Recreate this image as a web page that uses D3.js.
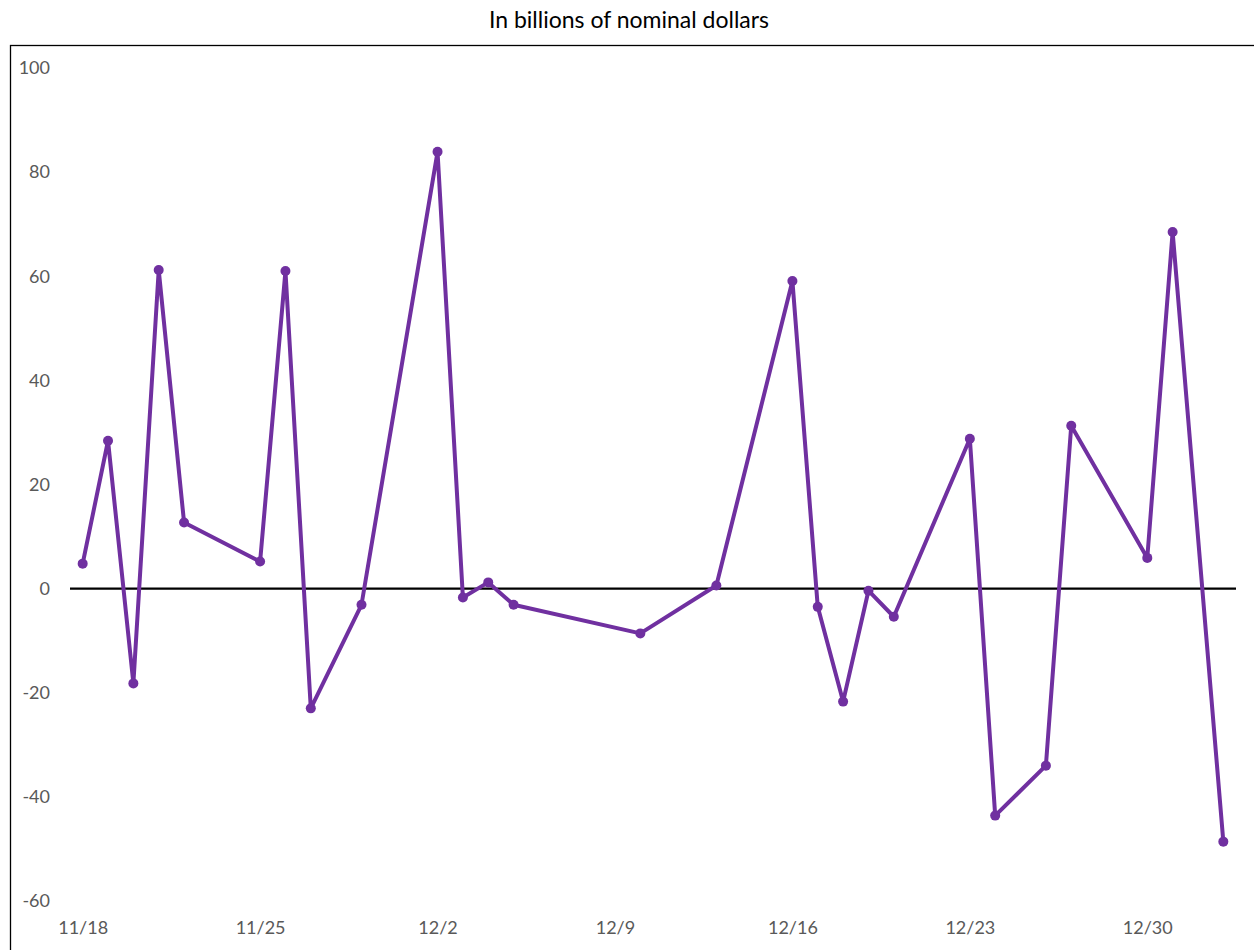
<!DOCTYPE html>
<html>
<head>
<meta charset="utf-8">
<script src="https://cdn.jsdelivr.net/npm/d3@7"></script>
<style>
  html, body { margin: 0; padding: 0; background: #fff; }
  svg { display: block; }
</style>
</head>
<body>
<svg id="chart" width="1254" height="950"></svg>
<script>
const TITLE = "In billions of nominal dollars";

const dates = [
  "2019-11-18", "2019-11-19", "2019-11-20", "2019-11-21", "2019-11-22",
  "2019-11-25", "2019-11-26", "2019-11-27", "2019-11-29",
  "2019-12-02", "2019-12-03", "2019-12-04", "2019-12-05", "2019-12-10",
  "2019-12-13", "2019-12-16", "2019-12-17", "2019-12-18", "2019-12-19",
  "2019-12-20", "2019-12-23", "2019-12-24", "2019-12-26", "2019-12-27",
  "2019-12-30", "2019-12-31", "2020-01-02"
];

const values = [
  4.8, 28.4, -18.2, 61.2, 12.7,
  5.2, 61.0, -23.0, -3.1,
  83.9, -1.7, 1.2, -3.1, -8.6,
  0.6, 59.1, -3.5, -21.7, -0.4,
  -5.4, 28.8, -43.6, -34.0, 31.3,
  5.9, 68.5, -48.6
];

const yTicks = [-60, -40, -20, 0, 20, 40, 60, 80, 100];
const xTickDates = ["2019-11-18", "2019-11-25", "2019-12-02", "2019-12-09", "2019-12-16", "2019-12-23", "2019-12-30"];

const parseDate = d3.timeParse("%Y-%m-%d");
const data = dates.map((d, i) => ({ date: parseDate(d), value: values[i] }));

const svg = d3.select("#chart");
const width = 1254;
const height = 950;
const plot = { left: 70, right: 1236, top: 68, bottom: 901 };
const FONT = "Lato, 'Open Sans', sans-serif";

const halfDay = 12 * 3600 * 1000;
const x = d3.scaleTime()
  .domain([new Date(data[0].date.getTime() - halfDay), new Date(data[data.length - 1].date.getTime() + halfDay)])
  .range([plot.left, plot.right]);

const y = d3.scaleLinear().domain([-60, 100]).range([plot.bottom, plot.top]);

// chart frame
svg.append("rect")
  .attr("x", 10.5)
  .attr("y", 45.5)
  .attr("width", width)
  .attr("height", height)
  .attr("fill", "none")
  .attr("stroke", "#000")
  .attr("stroke-width", 1.3);

svg.append("text")
  .attr("x", 629)
  .attr("y", 28)
  .attr("text-anchor", "middle")
  .attr("font-family", FONT)
  .attr("font-size", 23)
  .attr("fill", "#000")
  .text(TITLE);

// y axis labels (no line, no ticks)
const yAxis = d3.axisLeft(y).tickValues(yTicks).tickFormat((d) => String(d)).tickSize(0).tickPadding(0);
const yG = svg.append("g").attr("transform", "translate(50,0)").call(yAxis);
yG.select(".domain").remove();
yG.selectAll("text")
  .attr("font-family", FONT)
  .attr("font-size", 18)
  .attr("fill", "#595959");

// x axis labels
const xAxis = d3.axisBottom(x)
  .tickValues(xTickDates.map(parseDate))
  .tickFormat(d3.timeFormat("%-m/%-d"))
  .tickSize(0)
  .tickPadding(0);
const xG = svg.append("g").attr("transform", "translate(0,921)").call(xAxis);
xG.select(".domain").remove();
xG.selectAll("text")
  .attr("font-family", FONT)
  .attr("font-size", 18)
  .attr("fill", "#595959");

// zero line
svg.append("line")
  .attr("x1", plot.left)
  .attr("x2", plot.right)
  .attr("y1", y(0))
  .attr("y2", y(0))
  .attr("stroke", "#000")
  .attr("stroke-width", 2.2);

const line = d3.line().x((d) => x(d.date)).y((d) => y(d.value));

svg.append("path")
  .datum(data)
  .attr("d", line)
  .attr("fill", "none")
  .attr("stroke", "#7030A0")
  .attr("stroke-width", 4)
  .attr("stroke-linejoin", "round");

svg.append("g")
  .selectAll("circle")
  .data(data)
  .join("circle")
  .attr("cx", (d) => x(d.date))
  .attr("cy", (d) => y(d.value))
  .attr("r", 5)
  .attr("fill", "#7030A0");
</script>
</body>
</html>
